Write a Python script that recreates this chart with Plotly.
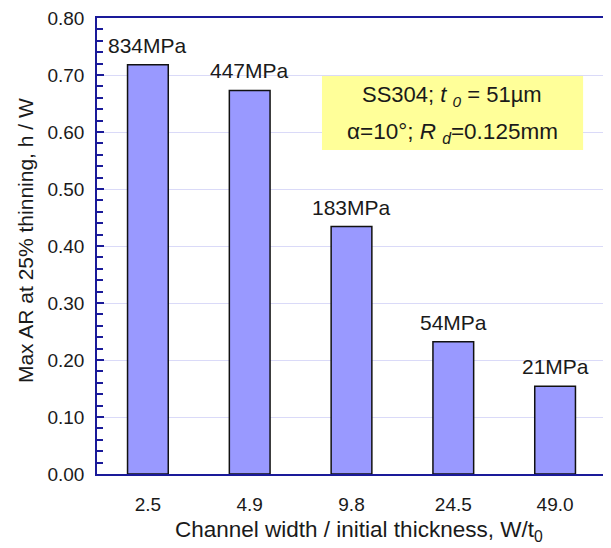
import plotly.graph_objects as go

categories = ["2.5", "4.9", "9.8", "24.5", "49.0"]
max_ar = [0.718, 0.673, 0.434, 0.232, 0.154]
stress_labels = ["834MPa", "447MPa", "183MPa", "54MPa", "21MPa"]

FONT = "Arial, Liberation Sans, Helvetica, sans-serif"
NAVY = "#1a1a99"
TXT = "#1a1a1a"

fig = go.Figure()
fig.add_trace(go.Bar(
    x=categories, y=max_ar,
    marker=dict(color="#9999ff", line=dict(color="#111111", width=1.5)),
    width=0.4,
    hoverinfo="skip",
))

for i, (v, t) in enumerate(zip(max_ar, stress_labels)):
    fig.add_annotation(x=i, y=v, text=t, showarrow=False, yanchor="bottom",
                       xanchor="center", yshift=6,
                       font=dict(size=21, color=TXT, family=FONT))

# info box
fig.add_shape(type="rect", xref="paper", yref="paper",
              x0=0.442, x1=0.955, y0=0.7105, y1=0.8728,
              fillcolor="#ffff99", line=dict(width=0), layer="above")
fig.add_annotation(xref="paper", yref="paper", x=0.6975, y=0.828,
                   xanchor="center", yanchor="middle",
                   text="SS304; <i>t</i> <sub><i>0</i></sub> = 51µm", showarrow=False,
                   font=dict(size=22, color=TXT, family=FONT))
fig.add_annotation(xref="paper", yref="paper", x=0.6975, y=0.747,
                   xanchor="center", yanchor="middle",
                   text="α=10°; <i>R</i> <sub><i>d</i></sub>=0.125mm", showarrow=False,
                   font=dict(size=22.5, color=TXT, family=FONT))

# axis titles
fig.add_annotation(xref="paper", yref="paper", x=-0.1415, y=0.513, textangle=-90,
                   text="Max AR at 25% thinning, h / W", showarrow=False,
                   xanchor="center", yanchor="middle",
                   font=dict(size=21, color=TXT, family=FONT))
fig.add_annotation(xref="paper", yref="paper", x=0.515, y=-0.125,
                   text="Channel width / initial thickness, W/t<sub>0</sub>", showarrow=False,
                   xanchor="center", yanchor="middle",
                   font=dict(size=22.5, color=TXT, family=FONT))

fig.update_layout(
    width=603, height=540,
    margin=dict(l=89, r=5, t=10, b=74),
    paper_bgcolor="white", plot_bgcolor="white",
    font=dict(family=FONT, size=19, color=TXT),
    showlegend=False,
    xaxis=dict(
        type="category", range=[-0.5, 4.5],
        showline=True, linecolor=NAVY, linewidth=1.5, mirror=True,
        ticks="", showgrid=False,
        tickfont=dict(size=19, color=TXT),
        ticklabelstandoff=12,
        automargin=False,
    ),
    yaxis=dict(
        range=[0, 0.8], dtick=0.1, tickformat=".2f",
        showline=True, linecolor=NAVY, linewidth=1.5, mirror=True,
        ticks="inside", ticklen=7, tickcolor=NAVY, tickwidth=1.5,
        showgrid=True, gridcolor="#dadaf8", gridwidth=1,
        zeroline=False,
        tickfont=dict(size=19, color=TXT),
        ticklabelstandoff=7,
        ticklabeloverflow="allow",
        minor=dict(dtick=0.02, ticks="inside", ticklen=6, tickcolor=NAVY, tickwidth=1.5, showgrid=False),
        automargin=False,
    ),
)

fig.write_html("out.html")
